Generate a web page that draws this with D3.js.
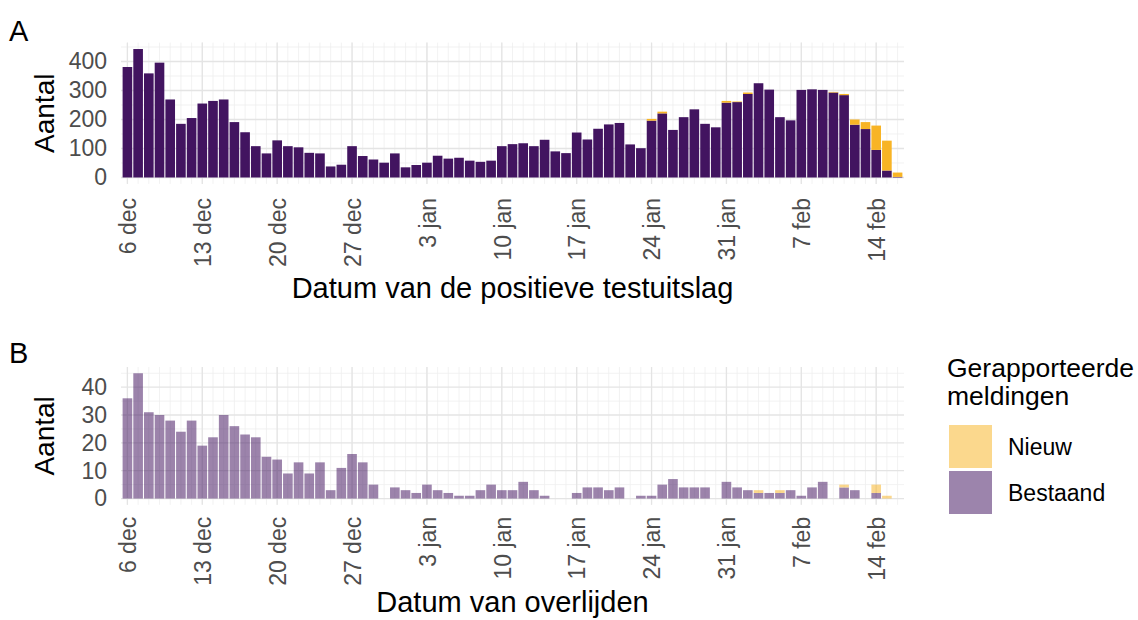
<!DOCTYPE html>
<html>
<head>
<meta charset="utf-8">
<script src="https://cdn.jsdelivr.net/npm/d3@7"></script>
<style>
  body { margin: 0; background: #fff; }
  svg { font-family: "Liberation Sans", Arial, sans-serif; }
</style>
</head>
<body>
<div id="chart"></div>
<script>
// Dagelijkse meldingen, 6 dec t/m 16 feb
const startDatum = Date.UTC(2020, 11, 6);
const eindDatum = Date.UTC(2021, 1, 17);
const dagen = d3.utcDay.range(startDatum, eindDatum);

// A: positieve testuitslagen
const testBestaand = [381, 443, 359, 396, 269, 185, 205, 255, 264, 269,
  191, 156, 108, 83, 128, 108, 104, 85, 83, 38,
  44, 108, 74, 62, 51, 83, 35, 43, 51, 75,
  65, 68, 58, 54, 58, 108, 115, 118, 108, 130,
  90, 84, 155, 131, 168, 183, 188, 114, 101, 196,
  221, 164, 208, 235, 185, 173, 258, 260, 288, 325,
  303, 208, 197, 302, 304, 302, 293, 284, 182, 167,
  95, 24, 2];
const testNieuw = [0, 0, 0, 0, 0, 0, 0, 0, 0, 0,
  0, 0, 0, 0, 0, 0, 0, 0, 0, 0,
  0, 0, 0, 0, 0, 0, 0, 0, 0, 0,
  0, 0, 0, 0, 0, 0, 0, 0, 0, 0,
  0, 0, 0, 0, 0, 0, 0, 0, 0, 6,
  6, 0, 0, 0, 0, 0, 6, 2, 5, 0,
  0, 0, 0, 0, 0, 0, 2, 4, 18, 24,
  84, 103, 15];

// B: overlijdens
const overlBestaand = [36, 45, 31, 30, 28, 24, 28, 19, 22, 30,
  26, 23, 22, 15, 14, 9, 13, 9, 13, 3,
  11, 16, 13, 5, 0, 4, 3, 2, 5, 3,
  2, 1, 1, 3, 5, 3, 3, 6, 3, 1,
  0, 0, 2, 4, 4, 3, 4, 0, 1, 1,
  5, 7, 4, 4, 4, 0, 6, 4, 3, 2,
  2, 2, 3, 1, 4, 6, 0, 4, 3, 0,
  2, 0, 0];
const overlNieuw = [0, 0, 0, 0, 0, 0, 0, 0, 0, 0,
  0, 0, 0, 0, 0, 0, 0, 0, 0, 0,
  0, 0, 0, 0, 0, 0, 0, 0, 0, 0,
  0, 0, 0, 0, 0, 0, 0, 0, 0, 0,
  0, 0, 0, 0, 0, 0, 0, 0, 0, 0,
  0, 0, 0, 0, 0, 0, 0, 0, 0, 1,
  0, 1, 0, 0, 0, 0, 0, 1, 0, 0,
  3, 1, 0];

const tickLabels = ["6 dec", "13 dec", "20 dec", "27 dec", "3 jan", "10 jan",
  "17 jan", "24 jan", "31 jan", "7 feb", "14 feb"];
const tickDatums = tickLabels.map((d, i) => dagen[i * 7]);

const legendItems = ["Nieuw", "Bestaand"];

const W = 1138, H = 620;
const dag = 864e5;
const purple = "#421460", yellow = "#f8b425";

const svg = d3.select("#chart").append("svg")
  .attr("width", W).attr("height", H);
svg.append("rect").attr("width", W).attr("height", H).attr("fill", "#fff");

const x = d3.scaleUtc()
  .domain([new Date(startDatum - 0.6 * dag), new Date(startDatum + 72.6 * dag)])
  .range([121, 904]);
const bw = (x(new Date(startDatum + dag)) - x(new Date(startDatum))) * 0.9;

function panel(opts) {
  const y = d3.scaleLinear().domain(opts.domain).range([opts.bottom, opts.top]);
  const g = svg.append("g");
  const [x0, x1] = x.range();

  // minor grid
  g.append("g").selectAll("line").data(dagen).join("line")
    .attr("x1", d => x(d)).attr("x2", d => x(d))
    .attr("y1", opts.top).attr("y2", opts.bottom)
    .attr("stroke", "#efefef").attr("stroke-width", 0.8);
  g.append("g").selectAll("line").data(opts.minor).join("line")
    .attr("x1", x0).attr("x2", x1)
    .attr("y1", d => y(d)).attr("y2", d => y(d))
    .attr("stroke", "#efefef").attr("stroke-width", 0.8);
  // major grid
  g.append("g").selectAll("line").data(tickDatums).join("line")
    .attr("x1", d => x(d)).attr("x2", d => x(d))
    .attr("y1", opts.top).attr("y2", opts.bottom)
    .attr("stroke", "#e4e4e4").attr("stroke-width", 1.3);
  g.append("g").selectAll("line").data(opts.major).join("line")
    .attr("x1", x0).attr("x2", x1)
    .attr("y1", d => y(d)).attr("y2", d => y(d))
    .attr("stroke", "#e4e4e4").attr("stroke-width", 1.3);

  const rows = dagen.map((d, i) => ({ d, b: opts.bestaand[i], n: opts.nieuw[i] }));
  const bars = g.append("g").attr("opacity", opts.alpha);
  bars.selectAll("rect.b").data(rows).join("rect").attr("class", "b")
    .attr("x", r => x(r.d) - bw / 2).attr("width", bw)
    .attr("y", r => y(r.b)).attr("height", r => y(0) - y(r.b))
    .attr("fill", purple);
  bars.selectAll("rect.n").data(rows.filter(r => r.n > 0)).join("rect").attr("class", "n")
    .attr("x", r => x(r.d) - bw / 2).attr("width", bw)
    .attr("y", r => y(r.b + r.n)).attr("height", r => y(r.b) - y(r.b + r.n))
    .attr("fill", yellow);

  // y axis
  const ya = g.append("g").attr("transform", `translate(${x0},0)`)
    .call(d3.axisLeft(y).tickValues(opts.major).tickSize(0).tickPadding(14));
  ya.select(".domain").remove();
  ya.selectAll("text").attr("font-size", 23).attr("fill", "#4d4d4d")
    .attr("font-family", "Liberation Sans, Arial, sans-serif");

  // x axis
  const xa = g.append("g").attr("transform", `translate(0,${opts.bottom})`)
    .call(d3.axisBottom(x).tickValues(tickDatums).tickSize(0)
      .tickFormat((d, i) => tickLabels[i]));
  xa.select(".domain").remove();
  xa.selectAll("text")
    .attr("transform", "rotate(-90)")
    .attr("x", -opts.labelPad).attr("y", 0).attr("dy", "0.36em")
    .attr("text-anchor", "end")
    .attr("font-size", 23).attr("fill", "#4d4d4d")
    .attr("font-family", "Liberation Sans, Arial, sans-serif");

  // titles
  svg.append("text").attr("x", (x0 + x1) / 2).attr("y", opts.xTitleY)
    .attr("text-anchor", "middle").attr("font-size", 29).text(opts.xTitle);
  svg.append("text")
    .attr("transform", `translate(54,${(opts.top + opts.bottom) / 2}) rotate(-90)`)
    .attr("text-anchor", "middle").attr("font-size", 28).text("Aantal");
  svg.append("text").attr("x", 9).attr("y", opts.labelY)
    .attr("font-size", 29).text(opts.label);
}

panel({
  label: "A", labelY: 41,
  domain: [-22.15, 465.15], top: 42.6, bottom: 183.9,
  major: [0, 100, 200, 300, 400], minor: [50, 150, 250, 350, 450],
  bestaand: testBestaand, nieuw: testNieuw, alpha: 1, labelPad: 14,
  xTitle: "Datum van de positieve testuitslag", xTitleY: 298
});

panel({
  label: "B", labelY: 363,
  domain: [-2.25, 47.25], top: 367, bottom: 504.8,
  major: [0, 10, 20, 30, 40], minor: [5, 15, 25, 35, 45],
  bestaand: overlBestaand, nieuw: overlNieuw, alpha: 0.52, labelPad: 12,
  xTitle: "Datum van overlijden", xTitleY: 612
});

// legend
const leg = svg.append("g");
leg.append("text").attr("x", 947).attr("y", 377).attr("font-size", 26.5)
  .text("Gerapporteerde");
leg.append("text").attr("x", 947).attr("y", 405).attr("font-size", 26.5)
  .text("meldingen");
const legColor = d3.scaleOrdinal().domain(legendItems).range([yellow, purple]);
const items = leg.selectAll("g.item").data(legendItems).join("g")
  .attr("transform", (d, i) => `translate(949,${425 + i * 46})`);
items.append("rect").attr("width", 43).attr("height", 43)
  .attr("fill", d => legColor(d)).attr("opacity", 0.52);
items.append("text").attr("x", 59).attr("y", 22).attr("dy", "0.35em")
  .attr("font-size", 23).text(d => d);
</script>
</body>
</html>
